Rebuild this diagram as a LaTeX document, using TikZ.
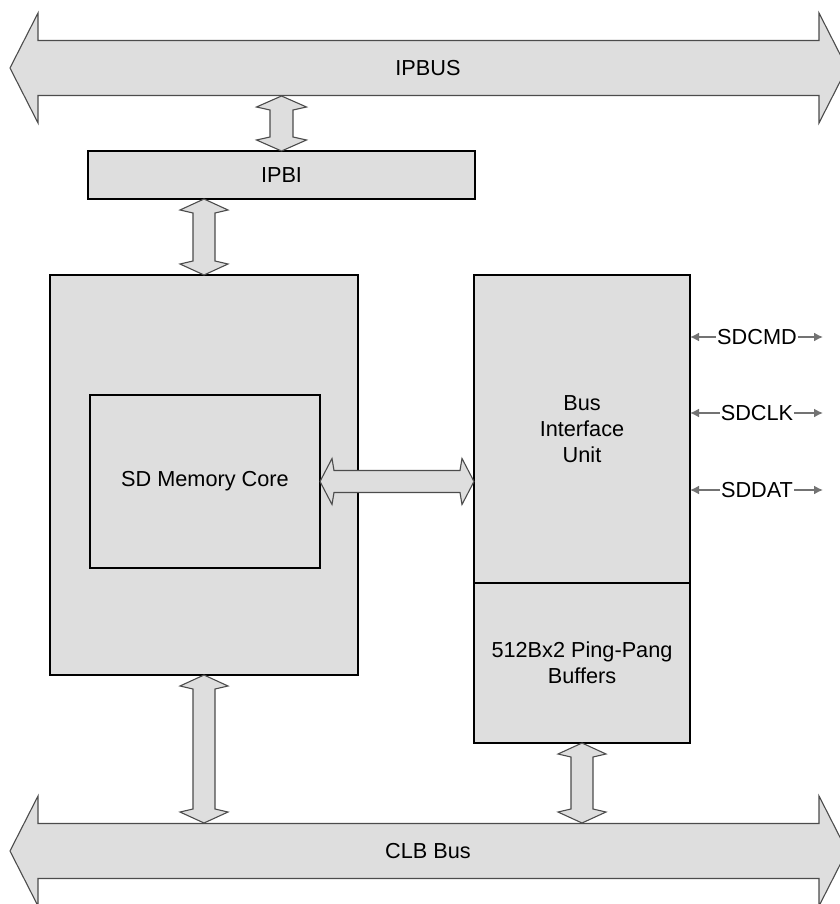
\documentclass[tikz,border=0pt]{standalone}
\usepackage{fontspec}
\setmainfont{Liberation Sans}
\usepackage{xcolor}
\usepackage{tikz}
\usetikzlibrary{positioning}
\usetikzlibrary{calc}
\usetikzlibrary{arrows.meta}

\definecolor{blockgray}{gray}{0.87}
\definecolor{siggray}{gray}{0.45}

\tikzset{
  blk/.style={draw, fill=blockgray, line width=1.3pt, align=center, inner sep=0pt, outer sep=0pt},
  fat/.style={draw=black!70, fill=blockgray, line width=1.1pt, line join=miter},
  sig/.style={draw=siggray, line width=1.6pt, -{Latex[length=9pt,width=9pt]}}
}

% fat double arrows: from, to, shaft half, head half, head length, notch
\newcommand{\hfat}[6]{\draw[fat] let \p1=(#1), \p2=(#2) in
  (\x1,\y1) -- (\x1+#5pt,\y1+#4pt) -- (\x1+#6pt,\y1+#3pt) -- (\x2-#6pt,\y1+#3pt) -- (\x2-#5pt,\y1+#4pt)
  -- (\x2,\y2) -- (\x2-#5pt,\y1-#4pt) -- (\x2-#6pt,\y1-#3pt) -- (\x1+#6pt,\y1-#3pt) -- (\x1+#5pt,\y1-#4pt) -- cycle;}
\newcommand{\vfat}[6]{\draw[fat] let \p1=(#1), \p2=(#2) in
  (\x1,\y1) -- (\x1-#4pt,\y1-#5pt) -- (\x1-#3pt,\y1-#6pt) -- (\x1-#3pt,\y2+#6pt) -- (\x1-#4pt,\y2+#5pt)
  -- (\x2,\y2) -- (\x1+#4pt,\y2+#5pt) -- (\x1+#3pt,\y2+#6pt) -- (\x1+#3pt,\y1-#6pt) -- (\x1+#4pt,\y1-#5pt) -- cycle;}

\begin{document}
\begin{tikzpicture}[x=1pt, y=-1pt, font=\fontsize{21.7}{26}\selectfont]
\useasboundingbox (0,0) rectangle (839,904);

\coordinate (ipbusW) at (10,68);
\coordinate (ipbusE) at (847,68);
\coordinate (ipbusS) at (428,96);
\hfat{ipbusW}{ipbusE}{27.5}{55}{28}{28}
\node (ipbus) at (428,68) {IPBUS};

\coordinate (clbW) at (10,851);
\coordinate (clbE) at (847,851);
\coordinate (clbN) at (428,823);
\hfat{clbW}{clbE}{27.5}{55}{28}{28}
\node (clb) at (428,851) {CLB Bus};

\node (ipbi) [blk, minimum width=387pt, minimum height=48pt] at (281.5,175) {IPBI};

\node (core) [blk, minimum width=308pt, minimum height=400pt] at (204,475) {};
\node (sdcore) [blk, minimum width=230pt, minimum height=173pt] at (205,481.5) {SD Memory Core};

\node (biu) [blk, minimum width=216pt, minimum height=308pt] at (582,429) {Bus\\Interface\\Unit};
\node (buf) [blk, minimum width=216pt, minimum height=160pt, below=0pt of biu] {512Bx2 Ping-Pang\\Buffers};

\vfat{ipbi.north |- ipbusS}{ipbi.north}{11.5}{25}{11}{14}
\vfat{core.north |- ipbi.south}{core.north}{11}{24}{11}{14}
\vfat{core.south}{core.south |- clbN}{11}{24}{11}{14}
\vfat{buf.south}{buf.south |- clbN}{11}{24}{11}{14}
\hfat{sdcore.east}{sdcore.east -| biu.west}{11}{23}{12}{14}

\foreach \name/\txt/\y in {cmd/SDCMD/337, clk/SDCLK/413, dat/SDDAT/490} {
  \node (\name) [inner sep=1pt] at (757,\y) {\txt};
  \coordinate (\name-end) at (823,\y);
  \draw[sig] (\name.west) -- (biu.east |- \name);
  \draw[sig] (\name.east) -- (\name-end);
}

\end{tikzpicture}
\end{document}
